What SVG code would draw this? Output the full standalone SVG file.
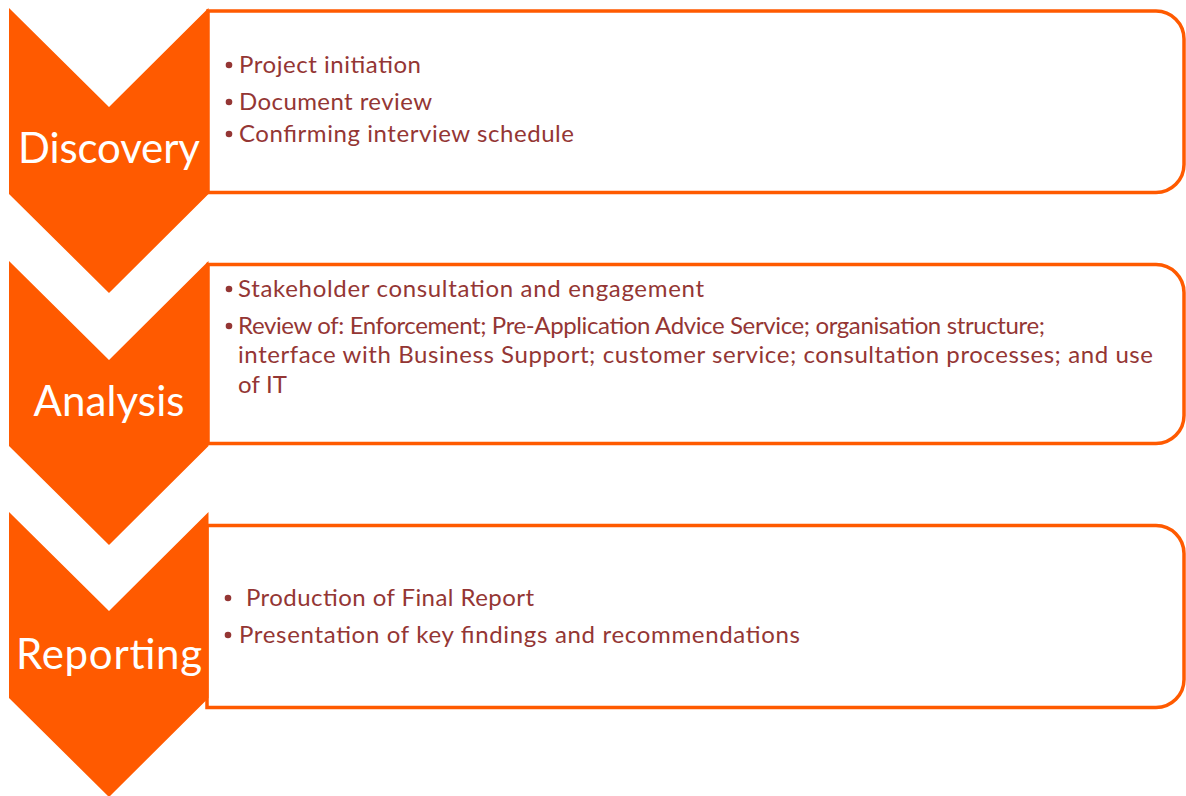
<svg xmlns="http://www.w3.org/2000/svg" width="1186" height="796" viewBox="0 0 1186 796">
  <style>
    .panel { fill: #ffffff; stroke: #ff5a00; stroke-width: 3.5; }
    .chevron { fill: #ff5a00; }
    .label { font-family: Lato, "Open Sans", "Liberation Sans", sans-serif; font-size: 42px; fill: #ffffff; text-anchor: middle; }
    .item { font-family: Lato, "Open Sans", "Liberation Sans", sans-serif; font-size: 24px; fill: #943634; }
    .dot { fill: #943634; }
  </style>
  <rect width="1186" height="796" fill="#ffffff"/>

  <!-- Stage 1 -->
  <g id="discovery">
    <path class="panel" d="M208,11 H1156 A28,28 0 0 1 1184,39 V164.5 A28,28 0 0 1 1156,192.5 H208 Z"/>
    <polygon class="chevron" points="9,8 109,107 208.5,8 208.5,194 109,293 9,194"/>
    <text class="label" x="109" y="163" textLength="182" lengthAdjust="spacing">Discovery</text>
    <circle class="dot" cx="229" cy="65" r="3.3"/>
    <text class="item" x="239" y="73" textLength="182" lengthAdjust="spacing">Project initiation</text>
    <circle class="dot" cx="229" cy="102" r="3.3"/>
    <text class="item" x="239" y="110" textLength="193" lengthAdjust="spacing">Document review</text>
    <circle class="dot" cx="229" cy="134" r="3.3"/>
    <text class="item" x="239" y="142" textLength="335" lengthAdjust="spacing">Confirming interview schedule</text>
  </g>

  <!-- Stage 2 -->
  <g id="analysis">
    <path class="panel" d="M208,264.5 H1156 A28,28 0 0 1 1184,292.5 V415.5 A28,28 0 0 1 1156,443.5 H208 Z"/>
    <polygon class="chevron" points="9,261 109,360 208.5,261 208.5,446 109,545 9,446"/>
    <text class="label" x="109" y="416" textLength="151" lengthAdjust="spacing">Analysis</text>
    <circle class="dot" cx="229" cy="289" r="3.3"/>
    <text class="item" x="238" y="297" textLength="466" lengthAdjust="spacing">Stakeholder consultation and engagement</text>
    <circle class="dot" cx="229" cy="326" r="3.3"/>
    <text class="item" x="238" y="334" textLength="807" lengthAdjust="spacing">Review of: Enforcement; Pre-Application Advice Service; organisation structure;</text>
    <text class="item" x="238" y="363" textLength="915" lengthAdjust="spacing">interface with Business Support; customer service; consultation processes; and use</text>
    <text class="item" x="238" y="393" textLength="49" lengthAdjust="spacing">of IT</text>
  </g>

  <!-- Stage 3 -->
  <g id="reporting">
    <path class="panel" d="M207,525.5 H1156 A28,28 0 0 1 1184,553.5 V679.5 A28,28 0 0 1 1156,707.5 H207 Z"/>
    <polygon class="chevron" points="9,512 109,611 208.5,512 208.5,698 109,797 9,698"/>
    <text class="label" x="109" y="669" textLength="186" lengthAdjust="spacing">Reporting</text>
    <circle class="dot" cx="228" cy="598" r="3.3"/>
    <text class="item" x="246" y="606" textLength="288" lengthAdjust="spacing">Production of Final Report</text>
    <circle class="dot" cx="228" cy="635" r="3.3"/>
    <text class="item" x="239" y="643" textLength="561" lengthAdjust="spacing">Presentation of key findings and recommendations</text>
  </g>
</svg>
